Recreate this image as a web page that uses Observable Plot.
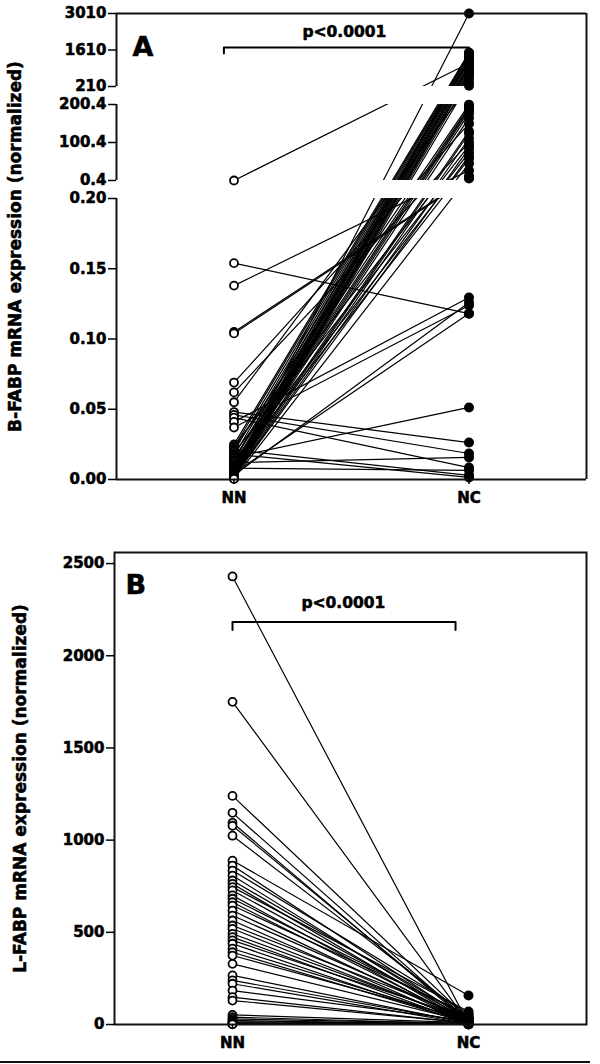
<!DOCTYPE html>
<html><head><meta charset="utf-8">
<script src="https://cdn.jsdelivr.net/npm/d3@7"></script>
<script src="https://cdn.jsdelivr.net/npm/@observablehq/plot@0.6"></script>
<style>
body{margin:0;background:#fff;}
#chart{width:600px;}
#chart svg{display:block;}
#chart svg text{stroke:#000;stroke-width:0.55px;}
#rule{width:590px;height:2px;background:#111;}
</style></head>
<body><div id="chart"></div><div id="rule"></div>
<script>
// ---------- data ----------
const groups = ["NN", "NC"];

// Panel A: B-FABP, paired subjects (NN value, NC value)
const nnA = [0.4, 0.154, 0.138, 0.105, 0.104, 0.069, 0.062, 0.055, 0.048, 0.046, 0.044, 0.041, 0.037,
  0.025, 0.024, 0.023, 0.022, 0.021, 0.020, 0.019, 0.018, 0.017, 0.016, 0.015, 0.014, 0.0135, 0.013,
  0.012, 0.011, 0.0105, 0.010, 0.0095, 0.009, 0.0085, 0.008, 0.0075, 0.007, 0.0065, 0.006, 0.0057,
  0.0055, 0.005, 0.0045, 0.004, 0.0035, 0.003, 0.0027, 0.0025, 0.0022, 0.002, 0.0017, 0.0015, 0.0012,
  0.001, 0.0007, 0.0004];
const ncA = [1100, 0.118, 27, 8, 5.7, 150, 100, 240, 0.0263, 0.0185, 0.0085, 0.1296, 0.1239,
  1514, 92, 1450, 200, 0.003, 1399, 74, 0.0015, 1330, 0.0513, 195, 1284, 58, 1250,
  0.0157, 190, 1200, 45, 1130, 185, 1050, 0.0065, 177, 1016, 165, 960, 3010,
  130, 900, 0.1182, 124, 820, 0.126, 111, 747, 85, 680, 65, 632, 517,
  363, 12, 1480];
const ticksA = [0, 0.05, 0.1, 0.15, 0.2, 0.4, 100.4, 200.4, 210, 1610, 3010];
const tickLabelsA = ["0.00", "0.05", "0.10", "0.15", "0.20", "0.4", "100.4", "200.4", "210", "1610", "3010"];
const breakDomainA = [0, 0.2, 0.4, 200.4, 210, 3010];
const gapsA = [[0.2, 0.4], [200.4, 210]];
const segmentsA = [[0, 0.2], [0.4, 200.4], [210, 3010]];
const bracketA = [[0.957, 1476], [0.957, 1706], [2, 1706], [2, 1476]];
const labelA = "B-FABP mRNA expression (normalized)";

// Panel B: L-FABP
const nnB = [2430, 1750, 1240, 1148, 1094, 1078, 1024, 889, 862, 835, 808, 781, 763, 745, 727, 700,
  682, 663, 645, 618, 591, 564, 537, 519, 492, 474, 456, 438, 411, 392, 374, 329, 266, 239, 221,
  184, 148, 130, 52, 40, 30, 22, 15, 10, 6, 3, 1];
const ncB = [4, 9, 30, 18, 12, 24, 40, 157, 22, 60, 14, 35, 8, 70, 26, 5, 45, 16, 54, 10, 28, 3,
  38, 12, 20, 6, 32, 2, 18, 9, 25, 15, 7, 11, 4, 20, 6, 8, 10, 4, 6, 2, 5, 1, 3, 1, 0];
const ticksB = [0, 500, 1000, 1500, 2000, 2500];
const bracketB = [[1, 2140], [1, 2183], [1.945, 2183], [1.945, 2140]];
const labelB = "L-FABP mRNA expression (normalized)";
const pText = "p<0.0001";

// ---------- helpers ----------
function pairs(nn, nc) {
  const rows = [];
  nn.forEach((v, i) => {
    rows.push({subject: i, group: groups[0], v});
    rows.push({subject: i, group: groups[1], v: nc[i]});
  });
  return rows;
}
const gx = d => groups.indexOf(d.group) + 1;
const font = {fontFamily: "DejaVu Sans", fontWeight: "bold", fontSize: "15px", color: "#000", background: "#fff", overflow: "visible"};

// ---------- panel A ----------
const rowsA = pairs(nnA, ncA);
const chartA = Plot.plot({
  width: 600, height: 520,
  marginLeft: 116, marginRight: 14, marginTop: 13, marginBottom: 41,
  style: font,
  x: {type: "linear", domain: [0.5, 2.5]},
  y: {type: "linear", domain: breakDomainA, range: [479, 198, 180, 104, 86, 13]},
  marks: [
    Plot.line(rowsA, {x: gx, y: "v", z: "subject", stroke: "#000", strokeWidth: 1.2}),
    Plot.rect(gapsA, {x1: 0.5, x2: 2.5, y1: d => d[0], y2: d => d[1], fill: "#fff", insetLeft: -4}),
    Plot.dot(rowsA.filter(d => d.group === "NN"), {x: gx, y: "v", r: 4, stroke: "#000", strokeWidth: 1.8, fill: "#fff"}),
    Plot.dot(rowsA.filter(d => d.group === "NC"), {x: gx, y: "v", r: 5, fill: "#000"}),
    Plot.ruleX(segmentsA, {x: 0.5, y1: d => d[0], y2: d => d[1], stroke: "#111", strokeWidth: 2}),
    Plot.ruleX([2.5], {y1: 0, y2: 3010, stroke: "#111", strokeWidth: 2}),
    Plot.ruleY([0, 3010], {x1: 0.5, x2: 2.5, stroke: "#111", strokeWidth: 2}),
    Plot.line(bracketA, {x: d => d[0], y: d => d[1], stroke: "#000", strokeWidth: 2}),
    Plot.text([pText], {x: 1.47, frameAnchor: "top", dy: 23, lineAnchor: "bottom", fontSize: 15.5}),
    Plot.text(["A"], {frameAnchor: "top-left", dx: 16, dy: 42, textAnchor: "start", lineAnchor: "bottom", fontSize: 27}),
    Plot.text([labelA], {frameAnchor: "left", rotate: -90, dx: -108, lineAnchor: "top", textAnchor: "middle", fontSize: 17}),
    Plot.axisY({ticks: ticksA, tickFormat: (d, i) => tickLabelsA[i], tickSize: 8, tickPadding: 2, strokeWidth: 1.5, label: null}),
    Plot.axisX({ticks: [1, 2], tickFormat: d => groups[d - 1], tickSize: 5, tickPadding: 8, strokeWidth: 1.5, label: null})
  ]
});

// ---------- panel B ----------
const rowsB = pairs(nnB, ncB);
const chartB = Plot.plot({
  width: 600, height: 541,
  marginLeft: 114, marginRight: 14, marginTop: 32, marginBottom: 37,
  style: font,
  x: {type: "linear", domain: [0.5, 2.5]},
  y: {type: "linear", domain: [0, 2560]},
  marks: [
    Plot.line(rowsB, {x: gx, y: "v", z: "subject", stroke: "#000", strokeWidth: 1.2}),
    Plot.dot(rowsB.filter(d => d.group === "NN"), {x: gx, y: "v", r: 4, stroke: "#000", strokeWidth: 1.8, fill: "#fff"}),
    Plot.dot(rowsB.filter(d => d.group === "NC"), {x: gx, y: "v", r: 5, fill: "#000"}),
    Plot.frame({stroke: "#111", strokeWidth: 2}),
    Plot.line(bracketB, {x: d => d[0], y: d => d[1], stroke: "#000", strokeWidth: 2}),
    Plot.text([pText], {x: 1.47, frameAnchor: "top", dy: 55, lineAnchor: "bottom", fontSize: 15.5}),
    Plot.text(["B"], {frameAnchor: "top-left", dx: 11, dy: 41, textAnchor: "start", lineAnchor: "bottom", fontSize: 27}),
    Plot.text([labelB], {frameAnchor: "left", rotate: -90, dx: -101, lineAnchor: "top", textAnchor: "middle", fontSize: 17}),
    Plot.axisY({ticks: ticksB, tickFormat: d => String(d), tickSize: 8, tickPadding: 2, strokeWidth: 1.5, label: null}),
    Plot.axisX({ticks: [1, 2], tickFormat: d => groups[d - 1], tickSize: 5, tickPadding: 8, strokeWidth: 1.5, label: null})
  ]
});

document.getElementById("chart").append(chartA, chartB);
</script>
</body></html>
